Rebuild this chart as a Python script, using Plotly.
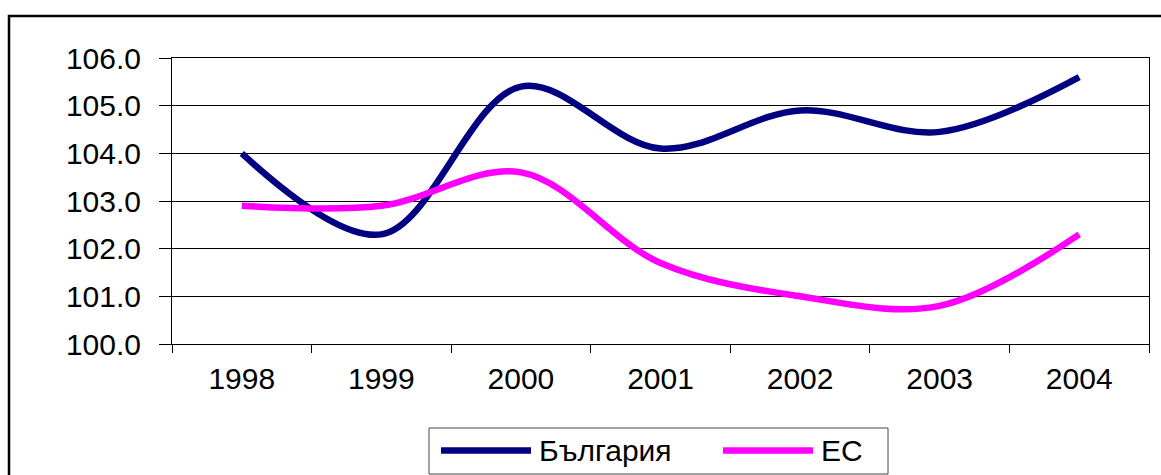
import plotly.graph_objects as go

# ---- data ----
years = ["1998", "1999", "2000", "2001", "2002", "2003", "2004"]
bulgaria = [104.0, 102.3, 105.4, 104.1, 104.9, 104.45, 105.6]
eu = [102.9, 102.9, 103.6, 101.7, 101.0, 100.8, 102.3]
series_names = ["България", "ЕС"]
y_ticks = [100, 101, 102, 103, 104, 105, 106]
y_tick_text = ["100.0", "101.0", "102.0", "103.0", "104.0", "105.0", "106.0"]

NAVY = "#000080"
MAGENTA = "#FF00FF"
FONT = "Arial, Liberation Sans, sans-serif"
FS = 30

W, H = 1161, 475
L, R, T, B = 172, 12, 58, 131
PW = W - L - R
PH = H - T - B


def px_x(px):
    return (px - L) / PW


def px_y(py):
    return (H - B - py) / PH


fig = go.Figure()
fig.add_trace(go.Scatter(x=years, y=bulgaria, mode="lines", name=series_names[0],
                         line=dict(color=NAVY, width=6.5, shape="spline", smoothing=1.0),
                         showlegend=False))
fig.add_trace(go.Scatter(x=years, y=eu, mode="lines", name=series_names[1],
                         line=dict(color=MAGENTA, width=6.5, shape="spline", smoothing=1.0),
                         showlegend=False))

shapes = []
# outer chart border (extends beyond the page on right and bottom)
shapes.append(dict(type="rect", xref="paper", yref="paper",
                   x0=px_x(9), x1=px_x(1175), y0=px_y(490), y1=px_y(16),
                   line=dict(color="black", width=2.5), fillcolor="rgba(0,0,0,0)", layer="below"))
# legend box
shapes.append(dict(type="rect", xref="paper", yref="paper",
                   x0=px_x(429), x1=px_x(888), y0=px_y(474), y1=px_y(428),
                   line=dict(color="#444444", width=1), fillcolor="white"))
# legend line samples
shapes.append(dict(type="line", xref="paper", yref="paper",
                   x0=px_x(441), x1=px_x(531), y0=px_y(450.5), y1=px_y(450.5),
                   line=dict(color=NAVY, width=6.5)))
shapes.append(dict(type="line", xref="paper", yref="paper",
                   x0=px_x(723), x1=px_x(813), y0=px_y(450.5), y1=px_y(450.5),
                   line=dict(color=MAGENTA, width=6.5)))

annotations = [
    dict(text=series_names[0], xref="paper", yref="paper", x=px_x(537), y=px_y(450),
         xanchor="left", yanchor="middle", showarrow=False,
         font=dict(family=FONT, size=FS, color="black")),
    dict(text=series_names[1], xref="paper", yref="paper", x=px_x(819), y=px_y(450),
         xanchor="left", yanchor="middle", showarrow=False,
         font=dict(family=FONT, size=FS, color="black")),
]

fig.update_layout(
    width=W, height=H, autosize=False,
    margin=dict(l=L, r=R, t=T, b=B, pad=0),
    paper_bgcolor="white", plot_bgcolor="white",
    font=dict(family=FONT, size=FS, color="black"),
    shapes=shapes, annotations=annotations,
    showlegend=False,
)
fig.update_xaxes(
    type="category", range=[-0.5, 6.5],
    showline=True, linecolor="black", linewidth=1, mirror=True,
    ticks="outside", ticklen=8, tickcolor="black", tickwidth=1,
    tickson="boundaries", showgrid=False, zeroline=False,
    tickfont=dict(family=FONT, size=FS, color="black"),
    ticklabelstandoff=8,
)
fig.update_yaxes(
    range=[100, 106], tickvals=y_ticks, ticktext=y_tick_text,
    showline=True, linecolor="black", linewidth=1, mirror=True,
    ticks="outside", ticklen=12, tickcolor="black", tickwidth=1,
    showgrid=True, gridcolor="black", gridwidth=1, zeroline=False,
    tickfont=dict(family=FONT, size=FS, color="black"),
    ticklabelstandoff=12,
)

fig.write_html("out.html",
               config={"displayModeBar": False, "staticPlot": True},
               post_script="document.body.style.margin='0';document.body.style.overflow='hidden';")
